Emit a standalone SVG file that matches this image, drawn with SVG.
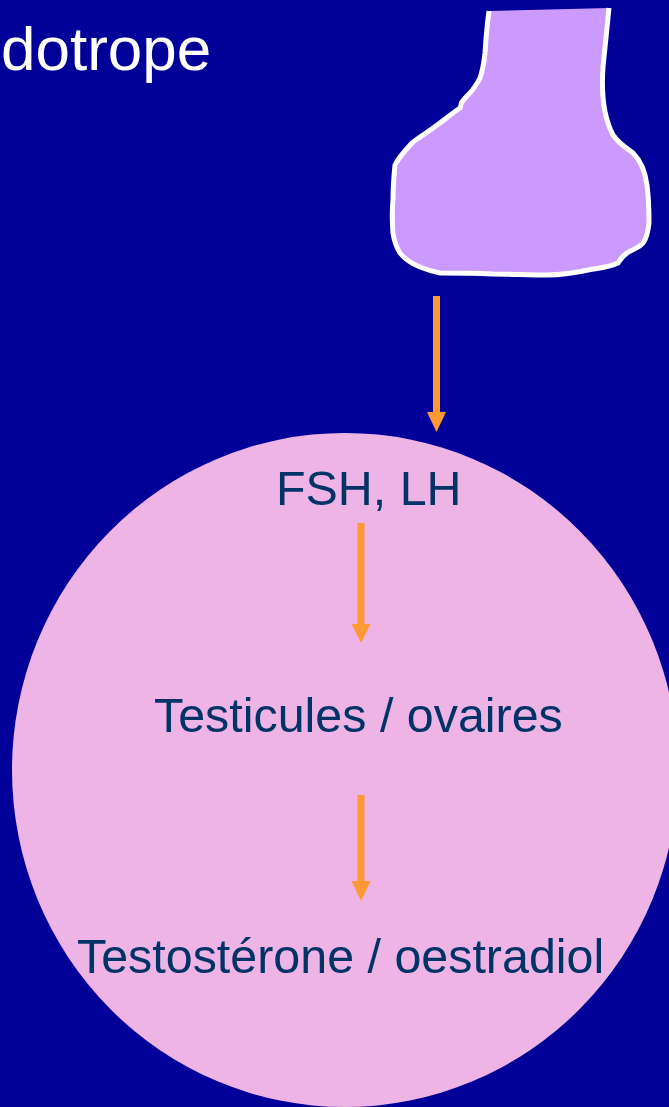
<svg xmlns="http://www.w3.org/2000/svg" width="669" height="1107" viewBox="0 0 669 1107">
  <style>
    .label { font-family: "Liberation Sans", Arial, sans-serif; font-size: 48.4px; fill: #003366; }
    .title { font-family: "Liberation Sans", Arial, sans-serif; font-size: 62px; fill: #FFFFFF; }
    .shaft { stroke: #FF9933; stroke-width: 7; fill: none; }
    .head { fill: #FF9933; }
  </style>
  <rect width="669" height="1107" fill="#000099"/>

  <text class="title" x="1" y="70">dotrope</text>

  <g id="hypophyse">
    <path d="M489,11 L609,8 L603,67 C601,95 604,118 613,135 C620,145 627,148 633,153 C640,160 645,170 647,185 C649,200 649,215 649,223 C648,232 647,238 643,243 C638,249 630,250 627,253 C622,256 620,260 618,263 C610,267 600,268 593,269 C575,273 560,275 547,275 C530,275 510,274 493,274 C470,273 455,273 440,273 C430,271 425,269 420,267 C410,263 404,258 400,253 C395,245 394,240 393,233 C392,220 392,210 393,200 C393,185 394,175 395,165 C400,155 406,150 412,143 C418,138 425,134 433,128 C445,120 452,113 460,108 C462,105 460,103 462,102 C464,99 466,97 468,95 C474,89 477,84 480,78 C483,70 484,62 485,53 C486,38 487,25 489,11 Z" fill="#CC99FF"/>
    <path d="M609,8 L603,67 C601,95 604,118 613,135 C620,145 627,148 633,153 C640,160 645,170 647,185 C649,200 649,215 649,223 C648,232 647,238 643,243 C638,249 630,250 627,253 C622,256 620,260 618,263 C610,267 600,268 593,269 C575,273 560,275 547,275 C530,275 510,274 493,274 C470,273 455,273 440,273 C430,271 425,269 420,267 C410,263 404,258 400,253 C395,245 394,240 393,233 C392,220 392,210 393,200 C393,185 394,175 395,165 C400,155 406,150 412,143 C418,138 425,134 433,128 C445,120 452,113 460,108 C462,105 460,103 462,102 C464,99 466,97 468,95 C474,89 477,84 480,78 C483,70 484,62 485,53 C486,38 487,25 489,11" fill="none" stroke="#FFFFFF" stroke-width="5" stroke-linejoin="round"/>
  </g>

  <g id="gonade">
    <ellipse cx="345" cy="770" rx="333" ry="337" fill="#EEB4E6"/>
    <text class="label" x="276" y="505">FSH, LH</text>
    <text class="label" x="154" y="732">Testicules / ovaires</text>
    <text class="label" x="77" y="973">Testostérone / oestradiol</text>
  </g>

  <g id="connecteurs">
    <line class="shaft" x1="436.5" y1="296" x2="436.5" y2="414"/>
    <polygon class="head" points="427,412 446,412 436.5,432"/>
    <line class="shaft" x1="361" y1="523" x2="361" y2="626"/>
    <polygon class="head" points="351.5,624 370.5,624 361,643"/>
    <line class="shaft" x1="361" y1="795" x2="361" y2="883"/>
    <polygon class="head" points="351.5,881 370.5,881 361,901"/>
  </g>
</svg>
